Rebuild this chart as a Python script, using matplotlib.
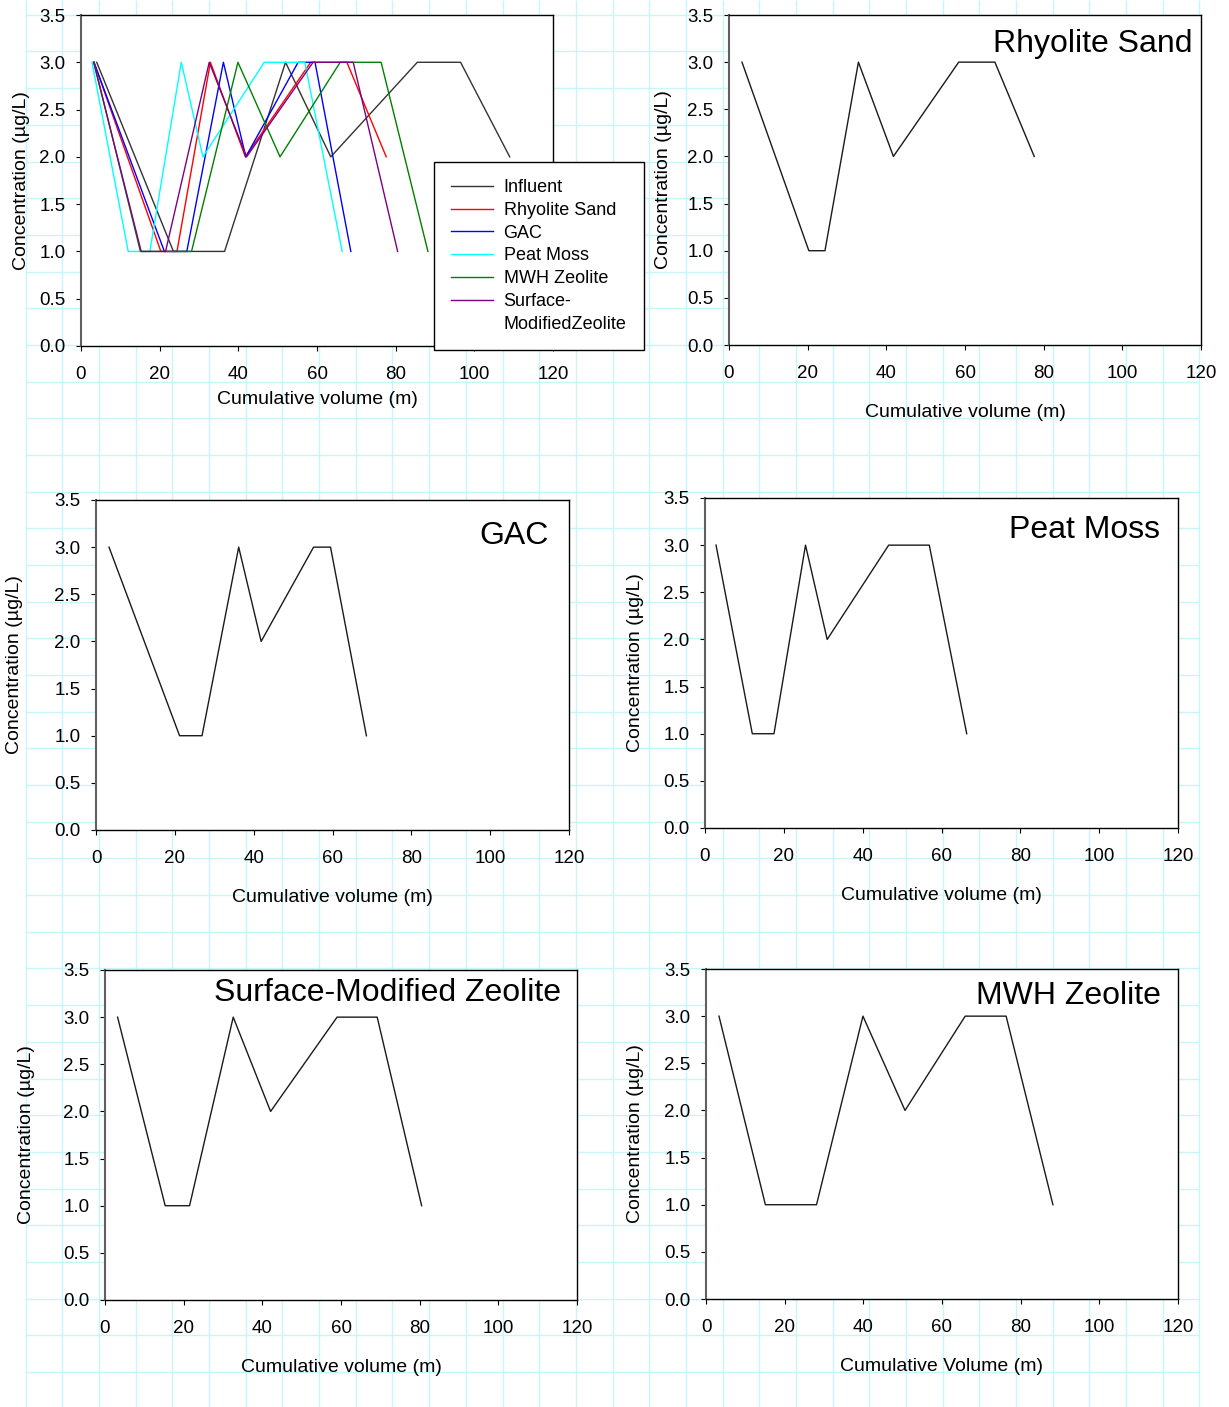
import matplotlib.pyplot as plt
from matplotlib.lines import Line2D
import numpy as np

plt.rcParams['font.family'] = ['Liberation Sans', 'DejaVu Sans']

# cumulative volume (m) and concentration (ug/L) for each column
vol_influent = [4.0, 23.5, 36.5, 52.0, 63.5, 85.5, 96.5, 109.0]
conc_influent = [3.0, 1.0, 1.0, 3.0, 2.0, 3.0, 3.0, 2.0]

vol_rhyolite = [3.3, 20.3, 24.4, 32.9, 41.8, 58.4, 67.6, 77.6]
conc_rhyolite = [3.0, 1.0, 1.0, 3.0, 2.0, 3.0, 3.0, 2.0]

vol_gac = [3.3, 21.2, 26.9, 36.2, 41.9, 55.2, 59.5, 68.6]
conc_gac = [3.0, 1.0, 1.0, 3.0, 2.0, 3.0, 3.0, 1.0]

vol_peat = [2.8, 12.0, 17.5, 25.5, 31.0, 46.6, 56.9, 66.4]
conc_peat = [3.0, 1.0, 1.0, 3.0, 2.0, 3.0, 3.0, 1.0]

vol_mwh = [3.3, 15.1, 28.1, 39.9, 50.6, 65.9, 76.3, 88.2]
conc_mwh = [3.0, 1.0, 1.0, 3.0, 2.0, 3.0, 3.0, 1.0]

vol_smz = [3.2, 15.3, 21.5, 32.6, 42.1, 59.0, 69.2, 80.5]
conc_smz = [3.0, 1.0, 1.0, 3.0, 2.0, 3.0, 3.0, 1.0]

x_ticks = [0, 20, 40, 60, 80, 100, 120]
y_ticks = [0.0, 0.5, 1.0, 1.5, 2.0, 2.5, 3.0, 3.5]

FIG_W, FIG_H = 1229, 1407
fig = plt.figure(figsize=(FIG_W / 100, FIG_H / 100), dpi=100)

# graph-paper background
bg = fig.add_axes([0, 0, 1, 1], zorder=-10)
bg.set_xlim(0, FIG_W)
bg.set_ylim(FIG_H, 0)
bg.axis('off')
cell = 36.68
bg.vlines(np.arange(25.7, 1200, cell), 0, FIG_H, color='#c8f6f8', lw=1)
bg.hlines(np.arange(14.8, FIG_H, cell), 25.7, 1199.3, color='#c8f6f8', lw=1)


def px_axes(left, top, right, bottom):
    return fig.add_axes([left / FIG_W, 1 - bottom / FIG_H,
                         (right - left) / FIG_W, (bottom - top) / FIG_H])


def style_axes(ax, xlabel, xlab_y, ylab_x):
    ax.set_xlim(0, 120)
    ax.set_ylim(0, 3.5)
    ax.set_xticks(x_ticks)
    ax.set_yticks(y_ticks)
    ax.yaxis.set_major_formatter('{x:.1f}')
    ax.tick_params(direction='out', length=3.6, width=0.8, labelsize=13.5)
    ax.tick_params(axis='x', pad=10.5)
    ax.tick_params(axis='y', pad=7.5)
    for side in ['top', 'right', 'bottom']:
        ax.spines[side].set_linewidth(1.0)
        ax.spines[side].set_color('black')
    ax.spines['left'].set_color('#606060')
    ax.spines['left'].set_linewidth(1.5)
    ax.set_xlabel(xlabel, fontsize=14)
    ax.set_ylabel('Concentration (µg/L)', fontsize=14)
    ax.xaxis.set_label_coords(0.5, xlab_y)
    ax.yaxis.set_label_coords(ylab_x, 0.5)


# combined panel
ax0 = px_axes(81, 15, 553, 346)
series = [
    ('Influent', vol_influent, conc_influent, '#333333'),
    ('Rhyolite Sand', vol_rhyolite, conc_rhyolite, '#ff0000'),
    ('GAC', vol_gac, conc_gac, '#0000ff'),
    ('Peat Moss', vol_peat, conc_peat, '#00ffff'),
    ('MWH Zeolite', vol_mwh, conc_mwh, '#008000'),
    ('Surface-', vol_smz, conc_smz, '#800080'),
]
handles = []
for name, xs, ys, col in series:
    line, = ax0.plot(xs, ys, color=col, lw=1.0, label=name)
    handles.append(line)
handles.append(Line2D([], [], color='none', label='ModifiedZeolite'))
style_axes(ax0, 'Cumulative volume (m)', -0.136, -0.108)
leg = ax0.legend(handles=handles, loc='upper left', bbox_to_anchor=(0.748, 0.556),
                 fontsize=13, frameon=True, fancybox=False, framealpha=1,
                 edgecolor='black', borderpad=0.95, labelspacing=0.32,
                 handlelength=2.3, handletextpad=0.6, borderaxespad=0)
leg.get_frame().set_linewidth(1.0)

# single-material panels
panels = [
    ('Rhyolite Sand', vol_rhyolite, conc_rhyolite, (729, 15, 1201, 345),
     'Cumulative volume (m)', (0.983, 0.889), -0.121),
    ('GAC', vol_gac, conc_gac, (96, 500, 569, 830),
     'Cumulative volume (m)', (0.957, 0.867), -0.154),
    ('Peat Moss', vol_peat, conc_peat, (705, 498, 1178, 828),
     'Cumulative volume (m)', (0.961, 0.878), -0.130),
    ('Surface-Modified Zeolite', vol_smz, conc_smz, (105, 970, 577, 1300),
     'Cumulative volume (m)', (0.967, 0.907), -0.149),
    ('MWH Zeolite', vol_mwh, conc_mwh, (706, 969, 1178, 1299),
     'Cumulative Volume (m)', (0.964, 0.895), -0.131),
]
for name, xs, ys, box, xlabel, tpos, ylab_x in panels:
    ax = px_axes(*box)
    ax.plot(xs, ys, color='#1a1a1a', lw=1.0)
    style_axes(ax, xlabel, -0.179, ylab_x)
    ax.text(tpos[0], tpos[1], name, transform=ax.transAxes, ha='right',
            va='baseline', fontsize=23)

fig.savefig('out.png', dpi=100)
